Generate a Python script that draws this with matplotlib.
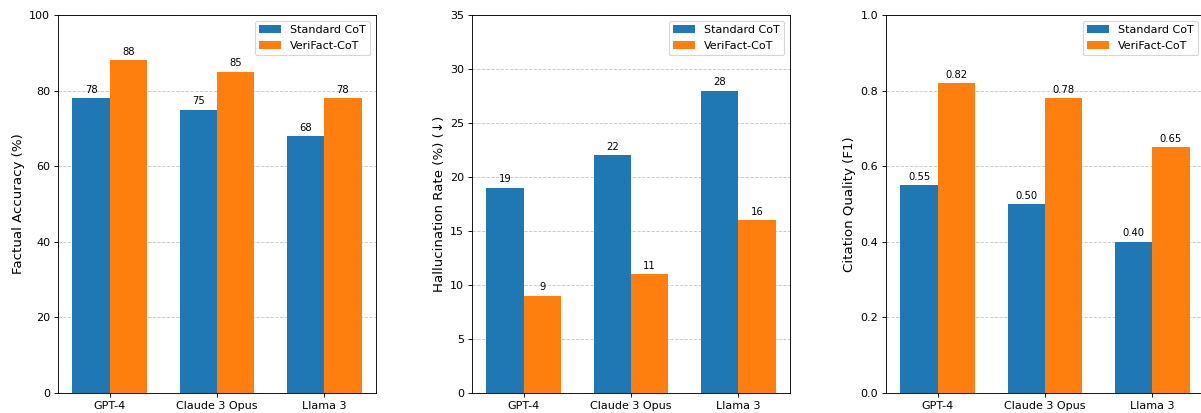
import matplotlib
matplotlib.use("Agg")
import matplotlib.pyplot as plt
import numpy as np

# Data
models = ["GPT-4", "Claude 3 Opus", "Llama 3"]
series_names = ["Standard CoT", "VeriFact-CoT"]

accuracy_std = [78, 75, 68]
accuracy_vf = [88, 85, 78]

halluc_std = [19, 22, 28]
halluc_vf = [9, 11, 16]

citation_std = [0.55, 0.50, 0.40]
citation_vf = [0.82, 0.78, 0.65]

BLUE = "#1f77b4"
ORANGE = "#ff7f0e"


def draw_panel(ax, std_vals, vf_vals, ylabel, ylim, fmt):
    x = np.arange(len(models))
    width = 0.35
    b1 = ax.bar(x - width / 2, std_vals, width, color=BLUE, label=series_names[0])
    b2 = ax.bar(x + width / 2, vf_vals, width, color=ORANGE, label=series_names[1])

    for bars in (b1, b2):
        for bar in bars:
            h = bar.get_height()
            ax.annotate(fmt.format(h),
                        xy=(bar.get_x() + bar.get_width() / 2, h),
                        xytext=(0, 3), textcoords="offset points",
                        ha="center", va="bottom", fontsize=9)

    ax.set_xticks(x)
    ax.set_xticklabels(models)
    ax.set_ylabel(ylabel, fontsize=12)
    ax.set_ylim(*ylim)
    ax.grid(axis="y", linestyle="--", alpha=0.7)
    ax.set_axisbelow(True)
    ax.legend(loc="upper right")


fig = plt.figure(figsize=(1201 / 80, 413 / 80), dpi=80)

bottom = 20 / 413
height = 378 / 413
width = 318 / 1201
ax1 = fig.add_axes([58 / 1201, bottom, width, height])
ax2 = fig.add_axes([472 / 1201, bottom, width, height])
ax3 = fig.add_axes([886 / 1201, bottom, width, height])

draw_panel(ax1, accuracy_std, accuracy_vf, "Factual Accuracy (%)", (0, 100), "{:.0f}")
draw_panel(ax2, halluc_std, halluc_vf, "Hallucination Rate (%) (\u2193)", (0, 35), "{:.0f}")
draw_panel(ax3, citation_std, citation_vf, "Citation Quality (F1)", (0, 1.0), "{:.2f}")

fig.savefig("out.png", dpi=80)
